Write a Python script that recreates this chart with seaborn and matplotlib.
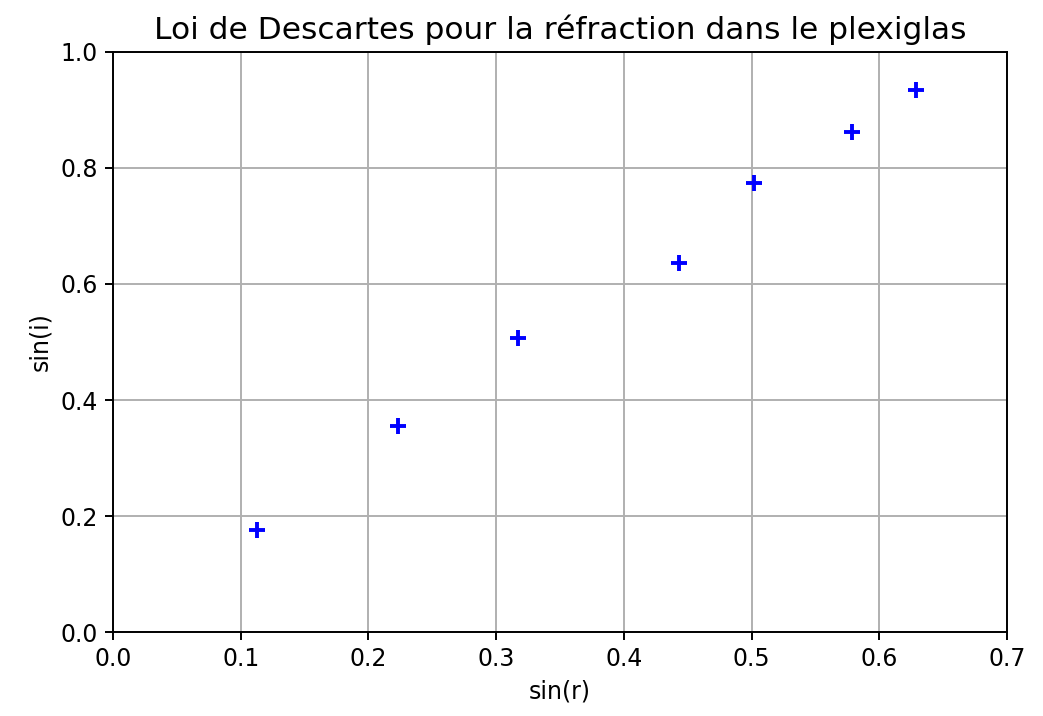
import matplotlib
matplotlib.use("Agg")
import matplotlib.pyplot as plt
import seaborn as sns
import pandas as pd

sin_r = [0.113, 0.223, 0.317, 0.443, 0.502, 0.579, 0.629]
sin_i = [0.176, 0.355, 0.507, 0.636, 0.774, 0.862, 0.934]

sns.set_style("ticks")
plt.rcParams['font.family'] = ['DejaVu Sans']
plt.rcParams['text.color'] = 'black'
plt.rcParams['axes.labelcolor'] = 'black'
plt.rcParams['xtick.color'] = 'black'
plt.rcParams['ytick.color'] = 'black'

df = pd.DataFrame({"sin(r)": sin_r, "sin(i)": sin_i})

fig = plt.figure(figsize=(10.43, 7.16), dpi=100)
ax = fig.add_axes([0.1083, 0.1173, 0.8572, 0.8101])
sns.scatterplot(data=df, x="sin(r)", y="sin(i)", marker="+", color="blue",
                s=120, linewidth=2.8, ax=ax, zorder=3)
ax.set_xlim(0, 0.7)
ax.set_ylim(0, 1.0)
ax.set_xticks([0, 0.1, 0.2, 0.3, 0.4, 0.5, 0.6, 0.7])
ax.set_yticks([0, 0.2, 0.4, 0.6, 0.8, 1.0])
ax.grid(True, color="#b0b0b0", linewidth=1.4)
ax.set_axisbelow(True)
for sp in ax.spines.values():
    sp.set_linewidth(1.4)
    sp.set_color("black")
ax.tick_params(labelsize=17, width=1.4, length=6, color="black", pad=5)
ax.set_xlabel("sin(r)", fontsize=17, labelpad=6)
ax.set_ylabel("sin(i)", fontsize=17, labelpad=6)
ax.set_title("Loi de Descartes pour la réfraction dans le plexiglas", fontsize=22.5, pad=9)
fig.savefig("out.png", dpi=100)
